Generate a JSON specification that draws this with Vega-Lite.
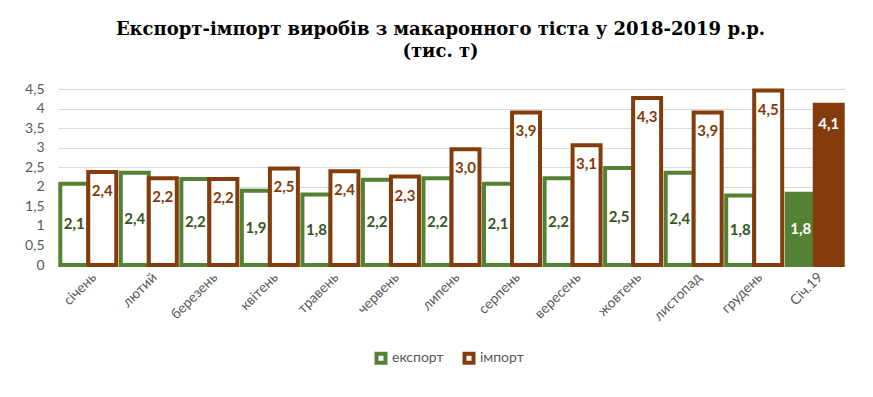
{
  "$schema": "https://vega.github.io/schema/vega-lite/v6.json",
  "autosize": "none",
  "width": 787,
  "height": 176,
  "padding": {"left": 58, "top": 89, "right": 28, "bottom": 132},
  "background": "white",
  "title": {
    "text": ["Експорт-імпорт виробів з макаронного тіста у 2018-2019 р.р.", "(тис. т)"],
    "font": "DejaVu Serif",
    "fontSize": 18,
    "fontWeight": "bold",
    "color": "#000000",
    "anchor": "middle",
    "dx": -11,
    "offset": 21,
    "lineHeight": 22
  },
  "data": {
    "values": [
      {"month": "січень", "series": "експорт", "value": 2.08},
      {"month": "січень", "series": "імпорт", "value": 2.38},
      {"month": "лютий", "series": "експорт", "value": 2.36},
      {"month": "лютий", "series": "імпорт", "value": 2.22},
      {"month": "березень", "series": "експорт", "value": 2.2},
      {"month": "березень", "series": "імпорт", "value": 2.2},
      {"month": "квітень", "series": "експорт", "value": 1.9},
      {"month": "квітень", "series": "імпорт", "value": 2.47},
      {"month": "травень", "series": "експорт", "value": 1.8},
      {"month": "травень", "series": "імпорт", "value": 2.4},
      {"month": "червень", "series": "експорт", "value": 2.18},
      {"month": "червень", "series": "імпорт", "value": 2.26},
      {"month": "липень", "series": "експорт", "value": 2.22},
      {"month": "липень", "series": "імпорт", "value": 2.96},
      {"month": "серпень", "series": "експорт", "value": 2.08},
      {"month": "серпень", "series": "імпорт", "value": 3.9},
      {"month": "вересень", "series": "експорт", "value": 2.22},
      {"month": "вересень", "series": "імпорт", "value": 3.06},
      {"month": "жовтень", "series": "експорт", "value": 2.48},
      {"month": "жовтень", "series": "імпорт", "value": 4.27},
      {"month": "листопад", "series": "експорт", "value": 2.36},
      {"month": "листопад", "series": "імпорт", "value": 3.9},
      {"month": "грудень", "series": "експорт", "value": 1.78},
      {"month": "грудень", "series": "імпорт", "value": 4.46},
      {"month": "Січ.19", "series": "експорт", "value": 1.82},
      {"month": "Січ.19", "series": "імпорт", "value": 4.1}
    ]
  },
  "transform": [
    {"calculate": "replace(format(datum.value, '.1f'), '.', ',')", "as": "label"},
    {"calculate": "datum.value / 2", "as": "mid"}
  ],
  "encoding": {
    "x": {
      "field": "month",
      "type": "nominal",
      "sort": null,
      "scale": {"paddingInner": 0.075, "paddingOuter": 0.0375},
      "axis": {
        "title": null,
        "labelAngle": -45,
        "labelAlign": "right",
        "labelBaseline": "middle",
        "labelFont": "Lato",
        "labelFontSize": 14,
        "labelColor": "#595959",
        "labelPadding": 10,
        "labelOffset": 6,
        "ticks": false,
        "domain": true,
        "domainColor": "#d9d9d9",
        "domainWidth": 1,
        "grid": false
      }
    },
    "xOffset": {
      "field": "series",
      "type": "nominal",
      "sort": ["експорт", "імпорт"],
      "scale": {"paddingInner": 0, "paddingOuter": 0}
    }
  },
  "layer": [
    {
      "mark": {"type": "bar", "strokeWidth": 4, "strokeJoin": "miter", "cornerRadius": 0},
      "encoding": {
        "y": {
          "field": "value",
          "type": "quantitative",
          "scale": {"domain": [0, 4.5], "nice": false},
          "axis": {
            "title": null,
            "values": [0, 0.5, 1, 1.5, 2, 2.5, 3, 3.5, 4, 4.5],
            "labelExpr": "replace(format(datum.value, '.1~f'), '.', ',')",
            "labelFont": "Lato",
            "labelFontSize": 14,
            "labelColor": "#595959",
            "labelPadding": 14,
            "labelOverlap": false,
            "ticks": false,
            "domain": false,
            "gridColor": "#d9d9d9",
            "gridWidth": 1
          }
        },
        "stroke": {
          "field": "series",
          "type": "nominal",
          "scale": {"domain": ["експорт", "імпорт"], "range": ["#548235", "#843C0C"]},
          "legend": {
            "orient": "none",
            "legendX": 316,
            "legendY": 262,
            "direction": "horizontal",
            "title": null,
            "symbolType": "square",
            "symbolSize": 81,
            "symbolStrokeWidth": 4,
            "symbolFillColor": "white",
            "labelFont": "Lato",
            "labelFontSize": 14,
            "labelColor": "#595959",
            "labelOffset": 4,
            "columnPadding": 12,
            "padding": 0,
            "encode": {"symbols": {"update": {"fill": {"value": "white"}, "strokeWidth": {"value": 4}}}}
          }
        },
        "fill": {
          "condition": [
            {"test": "datum.month === 'Січ.19' && datum.series === 'експорт'", "value": "#548235"},
            {"test": "datum.month === 'Січ.19' && datum.series === 'імпорт'", "value": "#843C0C"}
          ],
          "value": "white"
        }
      }
    },
    {
      "transform": [
        {"filter": "datum.series === 'експорт'"}
      ],
      "mark": {"type": "text", "font": "Lato", "fontSize": 15, "fontWeight": "bold", "baseline": "middle", "align": "center"},
      "encoding": {
        "y": {
          "field": "mid",
          "type": "quantitative",
          "scale": {"domain": [0, 4.5], "nice": false},
          "axis": {
            "title": null,
            "values": [0, 0.5, 1, 1.5, 2, 2.5, 3, 3.5, 4, 4.5],
            "labelExpr": "replace(format(datum.value, '.1~f'), '.', ',')",
            "labelFont": "Lato",
            "labelFontSize": 14,
            "labelColor": "#595959",
            "labelPadding": 14,
            "labelOverlap": false,
            "ticks": false,
            "domain": false,
            "gridColor": "#d9d9d9",
            "gridWidth": 1
          }
        },
        "text": {"field": "label"},
        "color": {
          "condition": {"test": "datum.month === 'Січ.19'", "value": "#ffffff"},
          "value": "#375623"
        }
      }
    },
    {
      "transform": [
        {"filter": "datum.series === 'імпорт'"}
      ],
      "mark": {"type": "text", "font": "Lato", "fontSize": 15, "fontWeight": "bold", "baseline": "middle", "align": "center", "dy": 19},
      "encoding": {
        "y": {
          "field": "value",
          "type": "quantitative",
          "scale": {"domain": [0, 4.5], "nice": false},
          "axis": {
            "title": null,
            "values": [0, 0.5, 1, 1.5, 2, 2.5, 3, 3.5, 4, 4.5],
            "labelExpr": "replace(format(datum.value, '.1~f'), '.', ',')",
            "labelFont": "Lato",
            "labelFontSize": 14,
            "labelColor": "#595959",
            "labelPadding": 14,
            "labelOverlap": false,
            "ticks": false,
            "domain": false,
            "gridColor": "#d9d9d9",
            "gridWidth": 1
          }
        },
        "text": {"field": "label"},
        "color": {
          "condition": {"test": "datum.month === 'Січ.19'", "value": "#ffffff"},
          "value": "#843C0C"
        }
      }
    }
  ],
  "config": {
    "view": {"stroke": null}
  }
}
